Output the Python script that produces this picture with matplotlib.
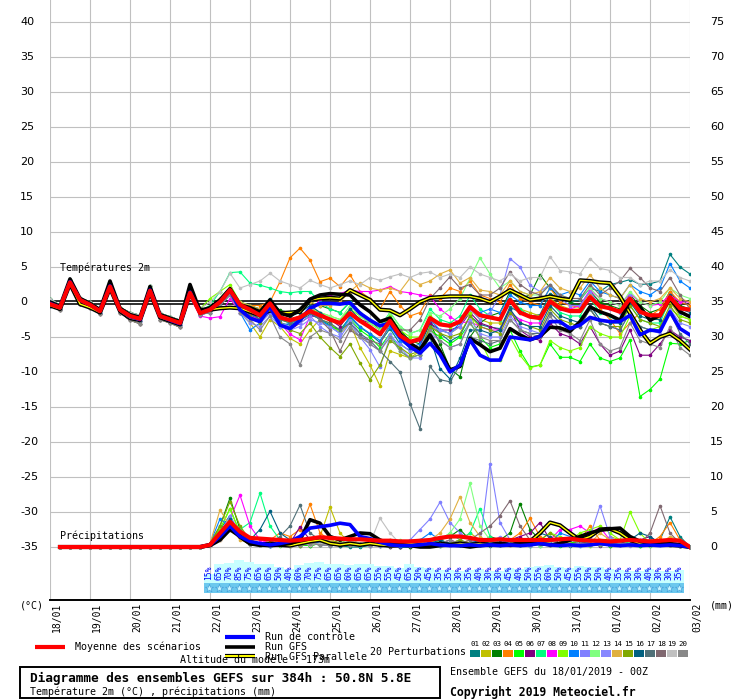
import numpy as np
import matplotlib
matplotlib.use('Agg')
import matplotlib.pyplot as plt
from matplotlib.patches import Rectangle

# ---------------- data ----------------
dates = ['18/01', '19/01', '20/01', '21/01', '22/01', '23/01', '24/01', '25/01', '26/01',
         '27/01', '28/01', '29/01', '30/01', '31/01', '01/02', '02/02', '03/02']
temp_ticks = [-35, -30, -25, -20, -15, -10, -5, 0, 5, 10, 15, 20, 25, 30, 35, 40]
precip_ticks = [0, 5, 10, 15, 20, 25, 30, 35, 40, 45, 50, 55, 60, 65, 70, 75]

member_colors = ['#008080', '#c0c000', '#008000', '#ff8000', '#00ff00', '#800080', '#00ff80',
                 '#ff00ff', '#80ff00', '#0080ff', '#8080ff', '#80ff80', '#8888ff', '#e0b040',
                 '#80a800', '#006080', '#507078', '#806870', '#c0c0c0', '#888888']
member_names = ['01', '02', '03', '04', '05', '06', '07', '08', '09', '10',
                '11', '12', '13', '14', '15', '16', '17', '18', '19', '20']

# Temperature 2m (degC), 6-hourly from 18/01 00Z (65 steps)
t_mean = [-0.3,-0.8,2.8,0.3,-0.4,-1.3,2.2,-1.1,-2.0,-2.4,1.6,-2.0,-2.5,-3.0,1.3,
          -1.6,-1.1,0.0,1.7,-0.4,-1.1,-1.9,-0.2,-2.2,-2.6,-2.2,-1.3,-1.9,-2.5,-3.0,-1.6,-2.7,-3.6,-4.6,-2.7,
          -4.8,-5.7,-5.3,-2.3,-3.2,-3.4,-2.8,-0.7,-1.9,-2.2,-2.5,0.3,-1.5,-2.1,-2.3,0.1,-0.9,-1.3,-1.3,0.7,
          -0.6,-0.9,-1.4,0.5,-1.4,-1.9,-1.9,0.7,-0.9,-1.1]
t_ctrl = [-0.2,-0.8,2.9,0.3,-0.4,-1.3,2.3,-1.1,-2.1,-2.5,1.7,-2.0,-2.6,-3.1,1.4,
          -1.6,-1.1,0.0,1.7,-1.1,-2.3,-2.8,-0.7,-3.3,-3.8,-2.6,-0.9,-0.2,-0.2,-0.3,-0.1,-1.6,-2.6,-3.4,-3.0,
          -5.0,-6.4,-7.3,-5.9,-7.5,-10.0,-9.0,-5.4,-7.6,-8.3,-8.3,-5.0,-5.2,-5.4,-4.9,-2.8,-2.8,-3.8,-3.3,-2.2,
          -2.6,-2.8,-2.8,-1.9,-4.7,-4.0,-4.2,-1.4,-3.8,-4.7]
t_gfs = [0.0,-0.6,3.3,0.5,-0.2,-1.1,3.0,-0.9,-1.8,-2.2,2.2,-1.8,-2.3,-2.8,2.5,
         -1.3,-0.8,0.3,1.9,-0.4,-0.8,-1.4,0.3,-1.6,-2.0,-1.1,0.4,1.0,1.2,1.1,1.0,-0.4,-1.4,-2.8,-2.3,
         -4.5,-5.9,-6.8,-4.7,-7.0,-9.7,-9.2,-5.2,-6.1,-7.1,-6.6,-3.8,-4.7,-5.4,-4.9,-3.6,-3.7,-4.2,-2.8,-0.7,
         -1.4,-1.9,-2.6,0.3,-0.7,-2.6,-1.9,0.5,-1.4,-2.1]
t_para = [-0.5,-1.0,2.6,-0.3,-0.8,-1.5,2.0,-1.3,-2.3,-2.6,1.4,-2.2,-2.7,-3.2,1.2,
          -1.1,-1.1,-0.9,-0.8,-0.9,-1.4,-1.9,-1.2,-1.6,-1.5,-1.4,0.3,0.5,0.6,0.5,1.7,1.0,0.3,-1.1,-1.2,
          -1.9,-1.0,0.0,0.6,0.7,0.8,0.8,0.8,0.5,0.0,0.8,1.7,1.0,0.3,0.5,0.8,0.5,0.3,3.1,3.0,
          2.8,2.7,0.8,-1.6,-4.0,-5.9,-5.0,-4.5,-5.5,-6.8]

t01 = [-0.5,-1.0,2.6,0.0,-0.6,-1.5,2.0,-1.3,-2.3,-2.7,1.5,-2.2,-2.8,-3.3,1.0,
       -1.8,-1.5,-0.2,1.5,-0.8,-1.8,-2.6,-0.9,-3.0,-3.3,-2.6,-1.8,-2.4,-3.3,-4.0,-2.2,-3.6,-4.6,-5.8,-3.8,
       -6.0,-7.0,-6.4,-3.0,-4.5,-5.6,-4.8,-2.0,-3.2,-3.6,-3.8,-0.7,-1.5,-2.0,-1.8,1.2,0.5,0.0,0.3,2.0,
       1.5,2.5,2.8,3.2,2.5,2.6,3.0,6.8,5.0,4.0]
t02 = [0.0,-0.7,3.0,0.5,-0.2,-1.1,2.4,-0.9,-1.8,-2.2,1.8,-1.8,-2.3,-2.8,1.5,
       -1.5,-1.0,0.3,1.2,-1.5,-3.0,-5.0,-2.5,-3.5,-5.2,-6.0,-4.0,-2.5,-3.0,-4.5,-3.0,-6.5,-9.0,-12.0,-7.0,
       -7.5,-8.0,-7.0,-3.5,-4.0,-4.5,-3.5,-1.0,-2.5,-3.0,-3.0,0.5,-1.0,-1.5,-2.0,0.5,-0.5,-1.0,-1.0,1.0,
       -0.5,-0.8,-1.2,0.8,-1.2,-2.0,-2.5,0.0,-2.0,-2.5]
t03 = [-0.2,-1.2,2.5,-0.3,-0.8,-1.7,1.9,-1.5,-2.6,-3.1,1.2,-2.5,-3.0,-3.6,0.8,
       -1.4,-0.8,0.5,2.0,0.0,-0.5,-1.0,0.2,-1.2,-1.5,-1.0,0.0,-0.5,-1.0,-1.5,0.0,-1.5,-2.5,-4.0,-2.0,
       -4.0,-5.5,-6.0,-3.0,-6.0,-9.5,-10.7,-5.0,-3.0,-2.0,-1.5,1.5,0.5,1.0,3.9,2.0,0.5,0.0,-0.5,1.5,
       0.0,-0.5,-1.0,1.0,-0.5,-1.5,-1.0,1.5,-0.5,-1.0]
t04 = [0.5,-0.5,3.2,0.6,0.0,-1.0,2.6,-0.8,-1.5,-1.9,2.3,-1.6,-2.1,-2.6,1.8,
       -1.5,-1.2,0.2,1.8,-0.2,-0.5,-0.5,0.0,2.9,6.3,7.7,6.0,2.9,3.4,2.2,3.9,1.5,0.5,-1.0,1.5,
       -0.5,-2.0,-1.5,1.0,0.5,2.0,1.5,3.0,1.0,0.5,0.0,2.5,0.5,0.0,-0.5,2.0,0.0,-0.5,-0.8,1.5,
       -1.0,-2.5,-4.5,-3.0,-1.5,-2.0,-1.0,1.5,0.0,-0.5]
t05 = [0.0,-0.7,3.0,0.5,-0.2,-1.1,2.4,-0.9,-1.8,-2.2,1.8,-1.8,-2.3,-2.8,1.5,
       -1.5,-1.0,0.5,2.0,-0.5,-1.0,-2.0,-0.5,-2.5,-3.0,-2.5,-1.5,-2.5,-3.5,-4.0,-2.5,-4.0,-5.0,-6.5,-4.5,
       -7.0,-8.0,-7.5,-4.0,-5.0,-6.0,-5.0,-3.0,-5.0,-6.5,-6.0,-4.0,-7.0,-9.3,-9.0,-6.0,-7.9,-7.9,-8.5,-6.0,
       -8.0,-8.5,-8.0,-5.4,-13.5,-12.5,-11.0,-5.9,-6.0,-5.5]
t06 = [-0.5,-1.0,2.6,0.0,-0.6,-1.5,2.0,-1.3,-2.3,-2.7,1.5,-2.2,-2.8,-3.3,1.0,
       -1.8,-1.3,-0.3,1.3,-1.0,-2.0,-3.0,-1.5,-3.0,-4.0,-3.0,-2.0,-2.0,-2.5,-3.5,-1.5,-2.5,-3.0,-4.0,-2.5,
       -4.5,-5.5,-5.5,-3.0,-4.0,-4.0,-3.5,-1.5,-3.0,-3.5,-4.0,-1.0,-4.0,-5.0,-5.5,-3.0,-4.5,-5.0,-6.0,-3.5,
       -6.0,-7.6,-7.0,-4.0,-7.6,-7.6,-6.0,-4.0,-5.0,-5.5]
t07 = [0.5,-0.5,3.2,0.6,0.0,-1.0,2.6,-0.8,-1.5,-1.9,2.3,-1.6,-2.1,-2.6,1.8,
       -1.2,-0.5,1.5,4.2,4.3,2.7,2.4,2.0,1.5,1.3,1.5,1.5,0.0,-1.0,-1.5,0.0,-1.5,-2.5,-3.5,-1.5,
       -3.5,-4.5,-4.0,-1.0,-2.5,-3.0,-2.0,1.0,-1.0,-2.0,-2.5,0.5,-1.0,-2.0,-2.5,0.0,-1.5,-2.0,-2.0,0.5,
       -1.5,-2.0,-3.0,-0.5,-2.5,-3.0,-3.0,0.5,-1.5,-2.0]
t08 = [-0.2,-1.2,2.5,-0.3,-0.8,-1.7,1.9,-1.5,-2.6,-3.1,1.2,-2.5,-3.0,-3.6,0.8,
       -2.0,-2.3,-2.1,0.5,-1.5,-2.0,-2.5,-1.0,-3.0,-4.6,-5.4,-2.0,0.5,1.0,1.2,1.7,1.5,1.5,1.7,2.2,
       1.5,1.3,1.0,0.8,-1.0,-2.1,-3.0,-2.8,-3.5,-4.0,-4.0,-1.5,-2.5,-3.0,-3.0,0.0,-1.0,-1.0,-0.5,1.7,
       0.5,0.0,-0.5,1.2,0.0,-0.5,-0.3,1.0,0.0,0.0]
t09 = [0.0,-0.7,3.0,0.5,-0.2,-1.1,2.4,-0.9,-1.8,-2.2,1.8,-1.8,-2.3,-2.8,1.5,
       -1.0,0.5,1.5,2.5,0.0,-1.0,-2.0,0.0,-2.0,-2.5,-2.0,-1.0,-1.5,-2.0,-2.5,-1.0,-2.0,-3.0,-4.0,-2.0,
       -4.0,-5.0,-5.0,-2.0,-3.0,-3.5,-3.0,-1.5,-5.5,-8.3,-8.3,-5.0,-7.6,-9.4,-9.0,-5.5,-6.5,-7.0,-6.5,-3.5,
       -4.5,-5.0,-5.0,-2.0,-3.5,-4.0,-3.5,-1.0,-2.0,-2.5]
t10 = [-0.5,-1.0,2.6,0.0,-0.6,-1.5,2.0,-1.3,-2.3,-2.7,1.5,-2.2,-2.8,-3.3,1.0,
       -1.5,-1.0,0.0,1.5,-1.5,-4.0,-3.0,-1.5,-3.5,-3.0,-2.5,-1.5,-2.5,-3.5,-4.5,-2.0,-3.5,-4.5,-5.5,-3.5,
       -5.5,-6.5,-6.0,-2.5,-4.0,-4.5,-3.0,-1.0,-1.5,-1.0,-1.5,1.0,0.0,-0.5,-0.5,2.0,1.0,1.5,1.0,3.0,
       1.5,1.0,0.5,2.5,1.5,1.0,2.0,5.5,3.0,2.0]
t11 = [-0.2,-1.2,2.5,-0.3,-0.8,-1.7,1.9,-1.5,-2.6,-3.1,1.2,-2.5,-3.0,-3.6,0.8,
       -1.5,-1.2,0.0,1.2,-1.0,-2.0,-3.0,-1.5,-3.0,-3.5,-3.0,-2.0,-3.5,-4.5,-5.0,-3.0,-5.0,-6.8,-9.3,-5.0,
       -6.0,-7.0,-6.5,-3.5,-4.0,-4.5,-3.5,-1.0,-2.5,-1.5,1.0,6.2,5.0,2.4,1.5,2.5,0.5,-0.5,-0.5,1.5,
       -0.5,-1.0,-1.5,1.0,-1.5,-2.0,-2.0,0.5,-1.5,-2.0]
t12 = [0.5,-0.5,3.2,0.6,0.0,-1.0,2.6,-0.8,-1.5,-1.9,2.3,-1.6,-2.1,-2.6,1.8,
       -1.2,-0.8,0.3,1.8,0.0,-0.5,-1.5,0.5,-1.5,-2.0,-1.5,-0.5,-1.5,-2.0,-2.5,-0.5,-2.0,-3.0,-4.0,-1.5,
       -3.5,-4.5,-4.0,-1.5,-2.0,-1.0,0.5,3.4,6.3,4.0,2.0,3.0,1.5,1.0,1.0,2.5,1.0,0.5,0.5,2.0,
       0.5,0.0,-0.5,1.5,0.0,-0.5,0.0,2.0,1.0,0.5]
t13 = [-0.5,-1.0,2.6,0.0,-0.6,-1.5,2.0,-1.3,-2.3,-2.7,1.5,-2.2,-2.8,-3.3,1.0,
       -1.8,-1.5,-0.5,1.0,-1.5,-3.0,-3.5,-2.0,-3.5,-4.0,-3.5,-2.5,-3.0,-3.5,-4.5,-2.5,-4.5,-6.0,-7.0,-4.5,
       -6.5,-8.0,-8.0,-4.5,-5.5,-6.5,-6.0,-2.5,-4.5,-5.0,-5.0,-2.0,-3.5,-4.0,-4.5,-1.5,-3.0,-3.5,-3.5,-1.0,
       -3.0,-3.5,-4.0,-1.5,-3.5,-4.0,-4.5,-1.0,-3.0,-3.5]
t14 = [0.0,-0.7,3.0,0.5,-0.2,-1.1,2.4,-0.9,-1.8,-2.2,1.8,-1.8,-2.3,-2.8,1.5,
       -1.5,-0.8,0.5,2.0,0.0,-0.5,-1.0,0.0,-1.5,-2.0,-1.0,0.0,-0.5,-0.5,0.0,1.5,2.7,2.0,1.7,2.0,
       1.5,3.4,2.5,3.0,4.0,4.6,2.7,3.5,1.7,1.5,1.0,3.0,1.5,1.0,1.5,3.5,2.0,1.5,2.0,3.9,
       2.0,1.0,0.5,2.5,0.5,0.0,0.5,2.0,0.5,0.0]
t15 = [-0.2,-1.2,2.5,-0.3,-0.8,-1.7,1.9,-1.5,-2.6,-3.1,1.2,-2.5,-3.0,-3.6,0.8,
       -1.5,-1.0,0.2,1.6,-1.0,-2.0,-3.0,-1.0,-3.0,-4.0,-4.5,-3.0,-5.0,-6.5,-7.8,-6.0,-8.7,-11.1,-9.0,-5.5,
       -6.5,-7.5,-7.0,-3.5,-4.5,-5.0,-4.5,-2.0,-3.5,-4.0,-4.5,-1.5,-3.0,-3.5,-4.0,-1.0,-2.5,-3.0,-3.5,-1.0,
       -3.0,-3.5,-3.5,-0.5,-2.5,-3.0,-3.5,-0.5,-2.5,-3.0]
t16 = [0.5,-0.5,3.2,0.6,0.0,-1.0,2.6,-0.8,-1.5,-1.9,2.3,-1.6,-2.1,-2.6,1.8,
       -1.7,-1.2,-0.2,1.4,-0.8,-1.5,-2.5,0.5,-1.5,-2.0,-1.5,-0.5,-1.5,-2.5,-3.0,-1.0,-2.5,-3.5,-4.5,-3.0,
       -5.0,-6.5,-7.5,-5.0,-9.5,-11.0,-8.0,-4.0,-4.0,-4.5,-4.0,-1.0,-3.0,-3.5,-3.5,-0.5,-2.0,-2.5,-3.0,-0.5,
       -2.5,-3.0,-3.0,0.0,-2.0,-2.5,-2.5,1.0,-1.0,-1.5]
t17 = [-0.5,-1.0,2.6,0.0,-0.6,-1.5,2.0,-1.3,-2.3,-2.7,1.5,-2.2,-2.8,-3.3,1.0,
       -1.8,-1.5,-0.5,1.0,-0.5,-1.5,-2.5,-0.5,-2.5,-3.0,-2.5,-1.5,-2.5,-3.0,-4.0,-3.0,-4.5,-5.5,-7.0,-8.5,
       -10.0,-14.5,-18.1,-9.2,-11.1,-11.4,-9.0,-5.0,-5.5,-6.0,-5.5,-2.5,-4.0,-4.5,-4.5,-1.5,-3.0,-3.5,-3.5,-1.0,
       -3.0,-3.5,-4.0,-1.5,-3.5,-4.0,-4.0,-1.5,-4.5,-6.0]
t18 = [0.0,-0.7,3.0,0.5,-0.2,-1.1,2.4,-0.9,-1.8,-2.2,1.8,-1.8,-2.3,-2.8,1.5,
       -1.6,-1.0,0.2,1.8,-0.5,-1.5,-2.0,0.0,-2.0,-2.5,-2.0,-1.0,-2.5,-4.0,-7.0,-4.0,-5.0,-5.5,-6.0,-3.0,
       -4.0,-4.0,-2.5,0.5,2.0,3.6,2.0,2.5,1.0,1.0,2.0,4.3,2.5,1.5,1.0,2.5,1.0,0.5,0.5,2.5,
       1.0,2.0,3.0,4.8,3.5,2.0,1.5,3.5,1.0,-1.0]
t19 = [0.5,-0.5,3.2,0.6,0.0,-1.0,2.6,-0.8,-1.5,-1.9,2.3,-1.6,-2.1,-2.6,1.8,
       -1.0,0.0,1.5,4.1,2.0,2.5,3.0,4.1,3.0,2.5,2.0,3.1,2.5,2.0,2.5,3.0,2.5,3.5,3.1,3.6,
       4.0,3.5,4.1,4.3,3.5,4.0,3.5,5.0,4.0,3.5,3.0,4.0,3.0,3.5,3.5,6.5,4.5,4.3,4.0,6.2,
       4.8,4.5,3.5,3.5,2.5,3.0,3.0,4.6,3.5,3.0]
t20 = [-0.2,-1.2,2.5,-0.3,-0.8,-1.7,1.9,-1.5,-2.6,-3.1,1.2,-2.5,-3.0,-3.6,0.8,
       -1.8,-1.5,-0.5,1.0,-1.5,-2.5,-4.0,-2.0,-5.0,-6.0,-9.0,-5.0,-4.0,-4.5,-5.5,-3.5,-5.0,-6.0,-7.0,-5.0,
       -7.0,-8.0,-7.5,-4.0,-5.5,-6.5,-6.0,-3.0,-5.0,-5.5,-5.5,-2.5,-4.0,-4.5,-5.0,-2.0,-4.0,-4.5,-5.5,-2.5,
       -6.0,-7.0,-6.5,-3.0,-5.5,-6.0,-6.5,-3.5,-6.5,-7.6]

# Precipitation (mm per 6h), steps 18/01 06Z .. 03/02 00Z (64 steps)
p_mean = [0,0,0,0,0,0,0,0,0,0,0,0,0,0,0,
          0.3,2.0,3.6,2.2,1.3,1.2,1.1,1.0,0.9,1.0,1.2,1.4,1.3,1.2,1.1,1.1,1.0,0.9,0.9,0.8,
          0.8,0.9,1.0,1.3,1.5,1.5,1.3,1.0,1.0,1.1,1.0,1.0,1.0,1.0,1.0,1.1,1.2,1.0,0.9,0.9,
          0.8,0.9,1.0,0.9,0.8,0.9,1.0,0.9,0.0]
p_ctrl = [0,0,0,0,0,0,0,0,0,0,0,0,0,0,0,
          0.3,1.5,3.0,1.5,0.8,0.5,0.3,0.5,0.8,1.5,2.7,2.9,3.1,3.4,3.2,1.5,1.2,0.7,0.3,0.2,
          0.2,0.3,0.5,0.3,0.2,0.2,0.3,0.2,0.3,0.2,0.3,0.2,0.3,0.5,0.3,0.2,0.3,0.2,0.3,0.5,
          0.3,0.2,0.3,0.2,0.3,0.2,0.3,0.2,0.0]
p_gfs = [0,0,0,0,0,0,0,0,0,0,0,0,0,0,0,
         0.2,1.0,2.5,1.5,0.5,0.3,0.2,0.3,0.5,1.0,3.9,3.4,1.5,1.0,1.5,2.0,1.9,1.0,0.5,0.3,
         0.2,0.0,0.0,0.2,0.3,0.2,0.0,0.2,0.3,0.5,0.3,0.5,0.8,0.5,0.3,0.5,1.0,1.5,2.0,2.4,
         2.6,2.7,1.5,0.8,0.5,0.3,0.5,0.3,0.0]
p_para = [0,0,0,0,0,0,0,0,0,0,0,0,0,0,0,
          0.3,1.5,3.0,1.5,0.5,0.3,0.5,0.3,0.2,0.5,0.8,1.0,0.5,0.3,0.5,0.3,0.5,0.3,0.2,0.3,
          0.5,0.3,0.2,0.5,0.3,0.5,0.3,0.5,0.3,0.5,0.3,0.5,0.8,2.0,3.5,3.1,2.0,1.0,1.5,2.5,
          2.6,2.0,1.0,0.5,0.3,0.5,0.3,0.2,0.0]

p01 = [0,0,0,0,0,0,0,0,0,0,0,0,0,0,0, 0.5,2.5,4.5,1.5,0.5, 0.3,0.2,0.5,0.3,0.2, 0.5,1.0,0.5,0.2,0.0, 0.0,0.2,0.5,0.3,0.0,
       0.0,0.5,1.0,0.5,0.3, 0.8,0.5,0.3,0.2,0.5, 1.0,0.5,0.3,0.2,0.5, 0.3,0.2,0.5,1.0,0.5, 0.3,0.5,1.0,0.5,0.3, 1.0,4.3,1.5,0.0]
p02 = [0,0,0,0,0,0,0,0,0,0,0,0,0,0,0, 0.3,1.5,3.5,2.0,0.5, 0.3,0.5,1.0,0.5,0.3, 0.5,1.5,5.7,2.0,0.5, 0.3,0.2,0.5,0.3,0.2,
       0.0,0.5,0.3,0.2,0.5, 1.0,2.0,1.0,0.5,0.3, 0.5,0.3,0.5,1.0,0.5, 0.3,0.5,0.3,0.2,0.5, 1.5,1.0,0.5,0.3,0.2, 0.5,0.3,0.2,0.0]
p03 = [0,0,0,0,0,0,0,0,0,0,0,0,0,0,0, 0.5,3.0,7.0,2.5,0.5, 0.3,0.2,0.3,0.5,0.3, 0.2,0.5,1.0,0.5,0.3, 0.2,0.5,0.3,0.2,0.0,
       0.0,0.3,0.5,1.0,1.5, 2.5,1.0,0.5,1.5,1.0, 2.0,6.2,2.5,1.0,0.5, 0.3,0.5,0.8,0.5,0.3, 0.2,0.5,0.3,0.2,0.5, 0.8,0.5,0.3,0.0]
p04 = [0,0,0,0,0,0,0,0,0,0,0,0,0,0,0, 0.2,1.0,2.5,1.5,0.5, 0.5,1.0,2.0,1.5,2.5, 6.1,2.0,1.0,0.5,0.3, 0.3,0.5,0.3,0.2,0.5,
       0.3,0.5,1.0,0.5,0.3, 0.5,1.0,0.5,0.3,0.5, 1.0,2.0,4.1,1.5,0.5, 0.3,0.5,1.0,3.0,1.0, 0.5,0.3,0.5,1.0,0.5, 1.5,3.5,1.0,0.0]
p05 = [0,0,0,0,0,0,0,0,0,0,0,0,0,0,0, 0.5,2.5,5.5,2.0,1.0, 0.5,0.3,0.2,0.5,0.3, 0.2,0.5,0.3,0.5,1.0, 0.5,0.3,0.2,0.0,0.0,
       0.3,0.5,0.3,0.2,0.5, 0.3,0.5,1.0,0.5,0.3, 0.5,0.3,0.2,0.5,0.3, 0.2,0.5,1.0,0.5,0.3, 0.2,0.5,0.3,0.2,0.3, 0.5,0.3,0.2,0.0]
p06 = [0,0,0,0,0,0,0,0,0,0,0,0,0,0,0, 0.3,1.5,4.0,1.5,0.5, 0.3,0.5,0.3,0.5,2.9, 1.0,0.5,0.3,0.2,0.3, 0.5,0.3,0.2,0.0,0.0,
       0.3,0.5,0.3,0.5,1.0, 0.5,0.3,0.5,0.3,0.5, 1.0,1.5,2.0,3.5,1.0, 0.5,0.3,0.5,0.3,0.2, 0.5,0.3,0.5,1.0,1.5, 0.5,0.3,0.2,0.0]
p07 = [0,0,0,0,0,0,0,0,0,0,0,0,0,0,0, 0.3,1.5,3.0,2.5,3.5, 7.7,3.0,1.0,0.5,0.3, 0.5,0.3,0.2,0.5,0.3, 0.2,0.3,0.5,0.3,0.2,
       0.5,0.3,0.5,1.0,2.0, 1.0,2.0,5.5,1.5,0.5, 0.5,0.3,0.2,0.5,1.0, 0.5,0.3,0.2,0.5,0.3, 0.5,1.0,0.5,0.3,0.2, 0.5,0.3,0.2,0.0]
p08 = [0,0,0,0,0,0,0,0,0,0,0,0,0,0,0, 0.3,2.0,4.0,7.4,3.0, 1.0,0.5,0.3,0.5,0.3, 0.5,1.0,0.5,0.3,0.5, 0.3,0.2,0.3,0.5,0.3,
       0.2,0.5,0.3,0.5,0.3, 0.5,0.3,0.5,1.0,0.5, 0.3,0.5,0.3,0.5,1.0, 2.5,2.5,3.0,2.0,2.8, 1.0,0.5,0.3,0.5,0.3, 0.5,0.3,0.2,0.0]
p09 = [0,0,0,0,0,0,0,0,0,0,0,0,0,0,0, 0.5,2.5,5.5,2.0,0.5, 0.3,0.5,0.3,0.2,0.5, 0.3,0.5,1.0,0.5,0.3, 0.2,0.5,0.3,0.2,0.3,
       0.5,0.3,0.5,1.0,0.5, 0.3,0.5,1.0,0.5,0.3, 0.5,0.3,0.5,1.0,2.0, 1.5,1.0,2.0,2.5,3.0, 2.0,1.0,5.0,2.0,0.5, 0.3,0.5,0.3,0.0]
p10 = [0,0,0,0,0,0,0,0,0,0,0,0,0,0,0, 0.5,4.0,3.0,1.5,0.5, 0.3,0.2,0.5,0.3,0.5, 1.0,0.5,0.3,0.5,0.3, 0.2,0.3,0.5,0.3,0.2,
       0.5,1.0,2.0,1.0,0.5, 0.3,0.5,0.3,0.5,1.0, 0.5,0.3,0.5,0.3,0.5, 2.0,1.5,1.0,0.5,0.3, 0.5,0.3,0.5,0.8,0.5, 0.3,0.5,0.3,0.0]
p11 = [0,0,0,0,0,0,0,0,0,0,0,0,0,0,0, 0.3,2.0,4.5,2.0,0.5, 0.3,0.5,0.3,0.2,0.3, 0.5,0.3,0.2,0.5,0.3, 0.5,0.3,0.2,0.3,0.5,
       1.0,2.5,4.0,6.4,3.5, 2.0,1.0,0.5,11.9,3.5, 1.0,0.5,0.3,0.5,0.3, 0.5,0.3,0.5,1.5,5.9, 1.5,0.5,0.3,0.5,0.3, 0.5,0.8,0.5,0.0]
p12 = [0,0,0,0,0,0,0,0,0,0,0,0,0,0,0, 0.5,2.0,4.0,1.5,0.5, 0.3,0.5,0.3,0.2,0.5, 0.3,0.5,0.3,0.2,0.5, 0.3,0.2,0.3,0.5,1.0,
       0.5,0.3,0.5,1.0,2.0, 4.0,9.1,3.0,1.0,0.5, 0.3,0.5,0.3,0.2,0.5, 0.3,0.5,0.3,0.2,0.5, 0.3,0.5,1.0,0.5,0.3, 0.5,0.3,0.2,0.0]
p13 = [0,0,0,0,0,0,0,0,0,0,0,0,0,0,0, 0.3,1.5,3.0,1.5,0.5, 0.3,0.2,0.5,0.3,0.2, 0.5,0.3,0.2,0.3,0.5, 0.3,0.2,0.3,0.2,0.5,
       0.3,0.5,0.3,0.2,0.5, 1.0,0.5,0.3,0.5,1.5, 0.5,0.3,0.2,0.5,0.3, 0.5,0.3,0.2,0.5,0.3, 0.5,0.3,0.2,0.5,0.3, 0.5,0.3,0.5,0.0]
p14 = [0,0,0,0,0,0,0,0,0,0,0,0,0,0,0, 0.5,5.3,3.0,1.0,0.5, 0.3,0.5,0.3,0.2,0.5, 0.3,0.5,1.0,0.5,0.3, 0.5,0.3,0.5,1.0,0.5,
       0.3,0.5,1.0,2.0,4.0, 7.2,3.5,1.5,0.5,0.3, 0.5,0.3,0.5,1.0,0.5, 0.3,0.5,0.3,0.5,2.0, 1.0,0.5,0.3,0.5,0.3, 0.5,1.5,1.0,0.0]
p15 = [0,0,0,0,0,0,0,0,0,0,0,0,0,0,0, 0.5,3.0,6.5,3.0,1.0, 0.5,0.3,0.5,0.3,0.2, 0.5,0.3,0.5,1.0,0.5, 0.3,0.5,0.3,0.2,0.3,
       0.5,0.3,0.5,0.3,0.5, 1.0,0.5,0.3,0.5,0.3, 0.5,0.3,0.5,1.0,2.0, 1.0,0.5,0.3,0.5,0.3, 0.5,0.3,0.5,0.3,0.5, 1.0,0.5,0.3,0.0]
p16 = [0,0,0,0,0,0,0,0,0,0,0,0,0,0,0, 0.3,1.5,4.0,2.0,1.0, 2.5,5.1,2.0,1.0,0.5, 0.3,0.5,0.3,0.2,0.5, 0.3,0.5,0.3,0.5,0.3,
       0.5,0.3,0.5,1.0,0.5, 0.3,0.5,1.0,0.5,0.3, 0.5,0.3,0.5,2.0,1.5, 0.5,0.3,0.5,0.3,0.5, 0.3,0.5,1.0,2.0,1.5, 0.5,0.3,0.2,0.0]
p17 = [0,0,0,0,0,0,0,0,0,0,0,0,0,0,0, 0.3,1.5,3.5,1.5,0.5, 0.3,0.5,1.5,3.0,6.0, 2.0,1.0,0.5,0.3,0.5, 0.3,0.5,0.3,0.2,0.5,
       0.3,0.5,0.3,0.5,0.3, 0.5,0.3,0.5,1.0,0.5, 0.3,0.5,0.3,0.5,0.3, 0.5,0.3,0.5,1.0,0.5, 0.3,0.5,0.3,0.5,0.3, 0.5,0.3,0.2,0.0]
p18 = [0,0,0,0,0,0,0,0,0,0,0,0,0,0,0, 0.3,1.5,3.0,1.5,0.5, 0.3,0.5,0.3,0.2,0.5, 0.3,0.5,0.3,0.5,0.3, 0.5,0.3,0.5,0.3,0.5,
       0.3,0.5,0.3,0.5,0.3, 0.5,1.0,2.0,3.0,4.5, 6.6,3.0,1.0,0.5,0.3, 0.5,0.3,0.5,0.3,0.5, 0.3,0.5,0.3,0.5,2.0, 5.9,2.0,0.5,0.0]
p19 = [0,0,0,0,0,0,0,0,0,0,0,0,0,0,0, 0.2,1.0,2.5,1.5,0.5, 0.3,0.5,0.3,0.2,0.5, 0.3,0.5,0.3,0.5,1.0, 0.5,0.5,4.1,2.0,0.5,
       0.3,0.5,0.3,0.5,0.3, 0.5,0.3,0.5,0.3,0.5, 0.3,0.5,0.3,0.5,1.0, 0.5,0.3,0.5,0.3,0.5, 1.0,0.5,0.3,0.5,0.3, 0.5,0.3,0.2,0.0]
p20 = [0,0,0,0,0,0,0,0,0,0,0,0,0,0,0, 0.3,2.0,3.5,1.5,0.5, 0.3,0.5,0.3,0.5,0.3, 0.5,0.3,0.2,0.5,0.3, 0.5,0.3,0.5,1.0,0.5,
       0.3,0.5,0.3,0.5,1.0, 0.5,0.3,0.5,1.0,0.5, 0.3,0.5,0.3,0.5,0.3, 0.5,1.0,0.5,0.3,0.5, 0.3,0.5,0.3,0.5,1.0, 0.5,0.3,0.2,0.0]

# probability of precipitation (%), steps 22/01 00Z .. 02/02 18Z
pop_step0 = 16
pop = [15, 65, 70, 85, 75, 65, 65, 50, 40, 60, 70, 75, 65, 65, 60, 65, 65, 55, 55, 45, 65, 50, 45, 35,
       35, 30, 35, 40, 30, 30, 45, 40, 50, 55, 60, 50, 45, 55, 50, 50, 40, 35, 30, 30, 40, 30, 30, 35]

t_members = [t01, t02, t03, t04, t05, t06, t07, t08, t09, t10,
             t11, t12, t13, t14, t15, t16, t17, t18, t19, t20]
p_members = [p01, p02, p03, p04, p05, p06, p07, p08, p09, p10,
             p11, p12, p13, p14, p15, p16, p17, p18, p19, p20]

# ---------------- figure ----------------
W, H = 740, 700
MONO = 'DejaVu Sans Mono'
fig = plt.figure(figsize=(W / 100, H / 100), dpi=100)
fig.patch.set_facecolor('white')

# Temperature axis: 7 px per degree, 0 degC at pixel row 302
ax = fig.add_axes([50 / W, 100 / H, 640 / W, 600 / H])
ax.set_xlim(0, 64)
ax.set_ylim((302 - 600) / 7, 302 / 7)
ax.set_facecolor('white')
for s in ['left', 'right', 'top']:
    ax.spines[s].set_visible(False)
ax.spines['bottom'].set_color('black')
ax.spines['bottom'].set_linewidth(1.4)
ax.set_xticks(range(0, 65, 4))
ax.set_yticks(temp_ticks)
ax.grid(True, color='#c0c0c0', lw=0.8, zorder=0)
ax.set_axisbelow(True)
ax.tick_params(length=0, labelleft=False, labelbottom=False)


def mm(v):
    """Precipitation (mm) on the right scale: 0 mm sits on -35 degC."""
    return np.asarray(v, dtype=float) - 35.0


def tx(s):
    return np.arange(len(s))


def px(s):
    return np.arange(1, len(s) + 1)


# zero line
ax.axhline(0, color='black', lw=3.3, zorder=1.5)
ax.axhline(0, color='white', lw=1.0, zorder=1.6)

# perturbations
for s, c in zip(t_members, member_colors):
    ax.plot(tx(s), s, color=c, lw=0.8, marker='.', ms=3.2, zorder=2)
for s, c in zip(p_members, member_colors):
    ax.plot(px(s), mm(s), color=c, lw=0.8, marker='.', ms=3.2, zorder=2)

# deterministic runs + mean
for s, xf, f in [(t_para, tx, lambda v: v), (p_para, px, mm)]:
    ax.plot(xf(s), f(s), color='black', lw=3.0, zorder=3)
    ax.plot(xf(s), f(s), color='#ffff00', lw=1.0, zorder=3.1)
ax.plot(tx(t_gfs), t_gfs, color='black', lw=2.6, zorder=3.2)
ax.plot(px(p_gfs), mm(p_gfs), color='black', lw=2.6, zorder=3.2)
ax.plot(tx(t_ctrl), t_ctrl, color='#0000ff', lw=2.6, zorder=3.3)
ax.plot(px(p_ctrl), mm(p_ctrl), color='#0000ff', lw=2.6, zorder=3.3)
ax.plot(tx(t_mean), t_mean, color='#ff0000', lw=3.0, zorder=3.5)
ax.plot(px(p_mean), mm(p_mean), color='#ff0000', lw=3.0, zorder=3.5)

# precipitation probability strip
pop_x = np.arange(pop_step0, pop_step0 + len(pop)) - 0.1
pop_arr = np.asarray(pop, dtype=float)
ax.bar(pop_x, (6 + 0.2 * pop_arr) / 7, bottom=(302 - 583) / 7, width=1.0,
       color='#c8ffff', edgecolor='none', zorder=1)
ax.bar(pop_x, 10 / 7, bottom=(302 - 593) / 7, width=1.0,
       color='#6cc8ee', edgecolor='none', zorder=1)
ax.scatter(pop_x, np.full(len(pop_x), (302 - 588) / 7), marker='*', s=38,
           color='#c8f4ff', edgecolors='#3a9ad8', linewidths=0.4, zorder=1.2)
for xv, p in zip(pop_x, pop):
    ax.text(xv, (302 - 572.5) / 7, f'{p}%', rotation=90, ha='center', va='center',
            color='#0000ff', fontsize=5.8, family=MONO, zorder=4)

# y tick labels (left: degC, right: mm)
ytr = ax.get_yaxis_transform()
for v, r in zip(temp_ticks, precip_ticks):
    ax.text((20 - 50) / 640, v, str(v), transform=ytr, ha='left', va='center',
            fontsize=8, family='DejaVu Sans', color='black')
    ax.text((710 - 50) / 640, v, str(r), transform=ytr, ha='left', va='center',
            fontsize=8, family='DejaVu Sans', color='black')

# date labels
xtr = ax.get_xaxis_transform()
for k, d in enumerate(dates):
    ax.text(4 * k + 0.7, -3 / 600, d, transform=xtr, rotation=90, ha='center', va='top',
            fontsize=7, family=MONO, color='black')

ax.text(1, (302 - 268) / 7, 'Températures 2m', fontsize=7.2, family=MONO,
        ha='left', va='center', zorder=5)
ax.text(1, (302 - 536) / 7, 'Précipitations', fontsize=7.2, family=MONO,
        ha='left', va='center', zorder=5)

# ---------------- overlay (pixel coordinates) ----------------
ov = fig.add_axes([0, 0, 1, 1])
ov.set_xlim(0, W)
ov.set_ylim(H, 0)
ov.axis('off')
ov.patch.set_visible(False)

ov.text(20, 606, '(°C)', fontsize=7.2, family=MONO, ha='left', va='center')
ov.text(710, 606, '(mm)', fontsize=7.2, family=MONO, ha='left', va='center')

ov.plot([35, 65], [647, 647], color='#ff0000', lw=3.0, solid_capstyle='butt')
ov.text(75, 647, 'Moyenne des scénarios', fontsize=7.2, family=MONO, ha='left', va='center')
ov.plot([225, 255], [637, 637], color='#0000ff', lw=3.0, solid_capstyle='butt')
ov.text(265, 637, 'Run de contrôle', fontsize=7.2, family=MONO, ha='left', va='center')
ov.plot([225, 255], [647, 647], color='black', lw=2.6, solid_capstyle='butt')
ov.text(265, 647, 'Run GFS', fontsize=7.2, family=MONO, ha='left', va='center')
ov.plot([225, 255], [656, 656], color='black', lw=3.0, solid_capstyle='butt')
ov.plot([225, 255], [655.5, 655.5], color='#ffff00', lw=1.4, solid_capstyle='butt')
ov.text(265, 657, 'Run GFS Parallele', fontsize=7.2, family=MONO, ha='left', va='center')
ov.text(180, 660, 'Altitude du modèle : 173m', fontsize=7.2, family=MONO, ha='left', va='center')
ov.text(370, 652, '20 Perturbations', fontsize=7.2, family=MONO, ha='left', va='center')

for k, (name, c) in enumerate(zip(member_names, member_colors)):
    x0 = 470 + k * 10.95
    ov.add_patch(Rectangle((x0, 650), 10, 6.5, facecolor=c, edgecolor='none'))
    ov.text(x0 + 5, 644, name, fontsize=5.4, family=MONO, ha='center', va='center')

ov.add_patch(Rectangle((20, 667), 420, 31, facecolor='none', edgecolor='black', lw=1.4))
ov.text(30, 678, 'Diagramme des ensembles GEFS sur 384h : 50.8N 5.8E', fontsize=9.2,
        family=MONO, weight='bold', ha='left', va='center')
ov.text(30, 692, 'Température 2m (°C) , précipitations (mm)', fontsize=7.2,
        family=MONO, ha='left', va='center')
ov.text(450, 672, 'Ensemble GEFS du 18/01/2019 - 00Z', fontsize=7.2, family=MONO,
        ha='left', va='center')
ov.text(450, 692, 'Copyright 2019 Meteociel.fr', fontsize=8.3, family=MONO,
        weight='bold', ha='left', va='center')

fig.savefig('out.png', dpi=100, facecolor='white')
